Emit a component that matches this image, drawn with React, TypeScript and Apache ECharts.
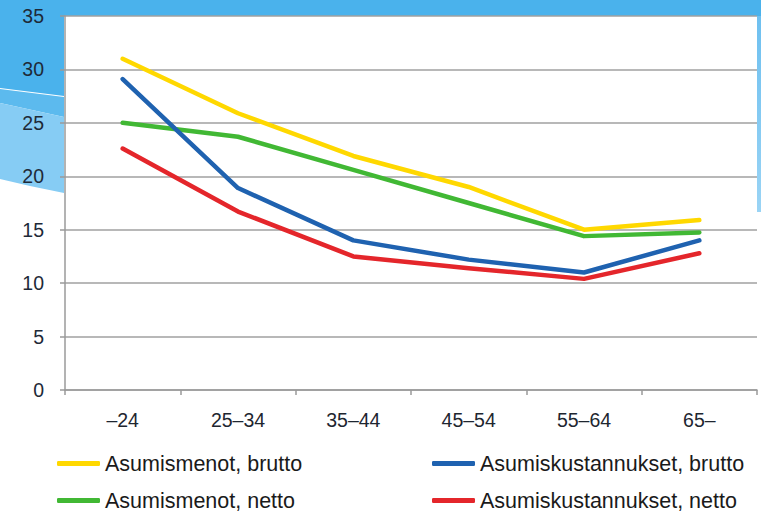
import React, { useEffect, useRef } from "react";
import * as echarts from "echarts";

const categories = ["–24", "25–34", "35–44", "45–54", "55–64", "65–"];
const yTicks = { min: 0, max: 35, interval: 5 };

const seriesNames = [
  "Asumismenot, brutto",
  "Asumiskustannukset, brutto",
  "Asumismenot, netto",
  "Asumiskustannukset, netto",
];
const menotBrutto = [31.0, 25.9, 21.9, 19.0, 15.0, 15.9];
const kustannuksetBrutto = [29.1, 18.9, 14.0, 12.2, 11.0, 14.0];
const menotNetto = [25.0, 23.7, 20.6, 17.5, 14.4, 14.75];
const kustannuksetNetto = [22.6, 16.7, 12.5, 11.4, 10.4, 12.8];

const seriesValues = [menotBrutto, kustannuksetBrutto, menotNetto, kustannuksetNetto];
const seriesColors = ["#FFD800", "#1F62B0", "#41B834", "#E4262B"];

export default function App() {
  const ref = useRef<HTMLDivElement>(null);

  useEffect(() => {
    if (!ref.current) return;
    const chart = echarts.init(ref.current, undefined, { renderer: "svg" });
    const font = "'Liberation Sans', Arial, sans-serif";
    const legendPos = [
      { left: 57, top: 452.5 },
      { left: 432, top: 452.5 },
      { left: 57, top: 489.5 },
      { left: 432, top: 489.5 },
    ];
    chart.setOption({
      animation: false,
      backgroundColor: "#ffffff",
      graphic: [
        {
          type: "polygon",
          z: -10,
          silent: true,
          shape: {
            points: [
              [0, 0],
              [761, 0],
              [761, 16],
              [64, 16],
              [64, 96],
              [0, 88],
            ],
          },
          style: { fill: "#4AB2EC" },
        },
        {
          type: "polygon",
          z: -10,
          silent: true,
          shape: {
            points: [
              [0, 89],
              [64, 97],
              [64, 117],
              [0, 103],
            ],
          },
          style: { fill: "#5CBAEE" },
        },
        {
          type: "polygon",
          z: -10,
          silent: true,
          shape: {
            points: [
              [0, 103],
              [64, 117],
              [64, 193],
              [30, 186],
              [0, 179],
            ],
          },
          style: { fill: "#86CCF4" },
        },
        {
          type: "rect",
          z: -10,
          silent: true,
          shape: { x: 757, y: 16, width: 4, height: 196 },
          style: {
            fill: new echarts.graphic.LinearGradient(0, 0, 0, 1, [
              { offset: 0, color: "#6EC0F0" },
              { offset: 1, color: "#9AD4F5" },
            ]),
          },
        },
      ],
      grid: { left: 65, right: 4, top: 16, bottom: 124, containLabel: false },
      legend: seriesNames.map((name, i) => ({
        data: [name],
        left: legendPos[i].left,
        top: legendPos[i].top,
        icon: "roundRect",
        itemWidth: 43,
        itemHeight: 5,
        padding: 0,
        selectedMode: false,
        textStyle: { fontFamily: font, fontSize: 21.5, color: "#1A1A1A" },
      })),
      xAxis: {
        type: "category",
        data: categories,
        boundaryGap: true,
        axisLine: { lineStyle: { color: "#9A9A9A", width: 1.5 } },
        axisTick: { show: true, length: 5, alignWithLabel: false, lineStyle: { color: "#9A9A9A", width: 1.5 } },
        axisLabel: { fontFamily: font, fontSize: 19.5, color: "#1E2630", margin: 20 },
      },
      yAxis: {
        type: "value",
        min: yTicks.min,
        max: yTicks.max,
        interval: yTicks.interval,
        axisLine: { show: true, lineStyle: { color: "#9A9A9A", width: 1.5 } },
        axisTick: { show: true, length: 5, lineStyle: { color: "#9A9A9A", width: 1.5 } },
        axisLabel: { fontFamily: font, fontSize: 19.5, color: "#1E2A38", margin: 21 },
        splitLine: { show: true, lineStyle: { color: "#A0A0A0", width: 1.5 } },
      },
      series: seriesNames.map((name, i) => ({
        name,
        type: "line",
        data: seriesValues[i],
        symbol: "none",
        smooth: false,
        itemStyle: { color: seriesColors[i] },
        lineStyle: { color: seriesColors[i], width: 4.5, cap: "round", join: "round" },
        z: 2 + (3 - i),
      })),
    });
    return () => chart.dispose();
  }, []);

  return (
    <div
      ref={ref}
      style={{ position: "fixed", left: 0, top: 0, width: 761, height: 514 }}
    />
  );
}
